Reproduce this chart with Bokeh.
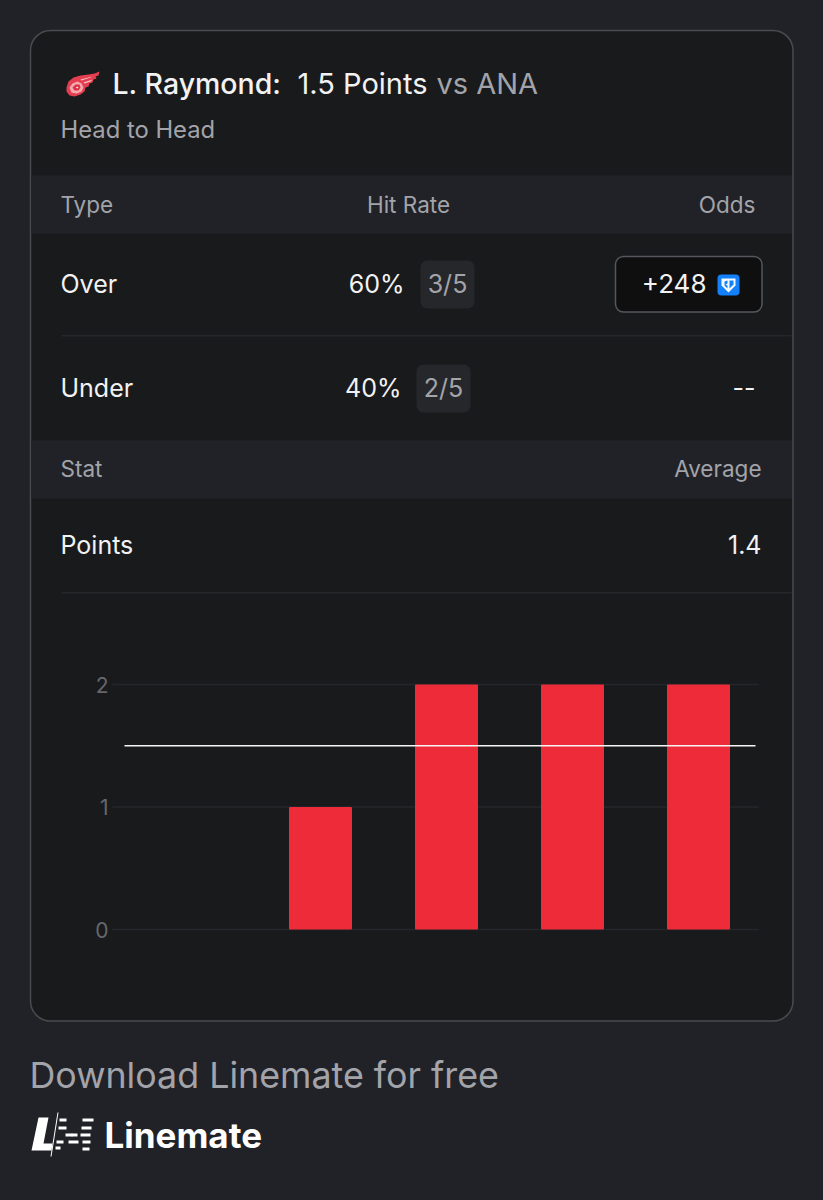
from bokeh.plotting import figure
from bokeh.embed import file_html
from bokeh.resources import INLINE
from bokeh.core.properties import value
from bokeh.models import Range1d, FixedTicker, LinearAxis

# ---- data
games = [0, 1, 2, 3, 4]
points = [0, 1, 2, 2, 2]
prop_line = 1.5
y_ticks = [0, 1, 2]
title_player = "L. Raymond:"
title_prop = "1.5 Points"
title_opp = "vs ANA"
subtitle = "Head to Head"
rows = [("Over", "60%", "3/5", "+248"), ("Under", "40%", "2/5", "--")]
stat_row = ("Points", "1.4")

BG, CARD, BAND = "#212227", "#191a1c", "#212227"
BORDER, SEP = "#4a4b50", "#26272b"
WHITE, GREY, DIM = "#f2f2f3", "#a3a4aa", "#66676c"
RED = "#ee2b38"
FONT = "Inter"
W, H = 823, 1200

# placement of the chart on the page
x0_px, x_step = 194.0, 126.0     # centre of first game, spacing
y0_px, y_step = 929.0, 122.5     # y = 0 line, one point


def dx(px):
    return (px - x0_px) / x_step


def dy(py):
    return (y0_px - py) / y_step


p = figure(width=W, height=H, output_backend="svg", toolbar_location=None,
           x_range=Range1d(dx(0), dx(W)), y_range=Range1d(dy(H), dy(0)),
           x_axis_location=None, y_axis_location=None,
           min_border=0, background_fill_color=BG, border_fill_color=BG, outline_line_color=None)
p.grid.visible = False
p.extra_x_ranges["px"] = Range1d(0, W)
p.extra_y_ranges["py"] = Range1d(H, 0)
PX = dict(x_range_name="px", y_range_name="py")


def box(x0, y0, x1, y1, fill, line=None, radius=0, lw=1.5):
    p.quad(left=[x0], right=[x1], top=[y0], bottom=[y1], fill_color=fill,
           line_color=line, line_width=lw, border_radius=radius, **PX)


def txt(x, y, s, size, color, align="left", bold=False, font=FONT):
    p.text(x=[x], y=[y - 1], text=[s], text_font=value(font), text_font_size=value(f"{size}px"),
           text_color=color, text_align=align, text_baseline="middle",
           text_font_style="bold" if bold else "normal", **PX)


def poly(pts, fill):
    p.patch(x=[a for a, _ in pts], y=[b for _, b in pts], fill_color=fill, line_color=None, **PX)


# card and bands
box(30, 30, 792.5, 1020.5, CARD, BORDER, 20)
box(31, 175, 791.5, 233, BAND)
box(31, 440, 791.5, 498, BAND)
box(61, 334.5, 791, 336, SEP)
box(61, 591.5, 791, 593, SEP)

# title
txt(112, 84, title_player, 28.5, WHITE, font="Inter Medium")
txt(297, 84, title_prop, 29, WHITE)
txt(436, 84, title_opp, 29, GREY)
txt(60, 130, subtitle, 23.8, GREY)

# table header
txt(60, 205, "Type", 22.5, GREY)
txt(408, 205, "Hit Rate", 22.5, GREY, "center")
txt(755, 205, "Odds", 22.5, GREY, "right")

# rows
ys = [284, 388]
pct_right = [404, 401]
chip = [(420, 474, 260, 308), (416, 470, 364, 412)]
for (name, pct, frac, odds), y, pr, c in zip(rows, ys, pct_right, chip):
    txt(60, y, name, 25, WHITE)
    txt(pr, y, pct, 25, WHITE, "right")
    box(c[0], c[2], c[1], c[3], "#26272b", None, 7)
    txt((c[0] + c[1]) / 2, y, frac, 25, GREY, "center")

box(615, 256, 761.5, 311.5, "#0f0f10", "#56575c", 8)
txt(706, 284, rows[0][3], 26, WHITE, "right")
txt(755, 388, rows[1][3], 25, WHITE, "right")

# FanDuel badge
box(717, 274, 739, 295, "#1381fb", None, 4)
poly([(721, 278), (735, 278), (735, 285), (728, 292), (721, 285)], "#f4f9ff")
poly([(724, 281), (727, 280), (727, 283), (725, 284), (727, 285), (727, 288), (724, 285)], "#1381fb")
poly([(729, 280), (733, 280), (733, 284), (729, 288)], "#1381fb")

# stat section
txt(60, 469, "Stat", 22.5, GREY)
txt(761, 469, "Average", 22.5, GREY, "right")
txt(60, 545, stat_row[0], 25, WHITE)
txt(761, 545, stat_row[1], 25, WHITE, "right")

# team logo: wheel and feathered wing
poly([(66, 87), (68, 81), (73, 77), (80, 75), (88, 74), (94, 73), (99, 71), (98, 75), (95, 76),
      (96, 78), (93, 79), (92, 82), (89, 83), (88, 86), (85, 87), (84, 91), (80, 94), (74, 96),
      (69, 95), (66, 91)], "#e33f50")
poly([(69, 87), (72, 83), (77, 81), (81, 83), (83, 87), (81, 91), (76, 93), (71, 92)], "#f7a9b0")
poly([(72, 87), (75, 84), (79, 84), (80, 87), (78, 90), (74, 90)], "#d93244")
poly([(75, 87), (77, 86), (78, 87), (77, 88)], "#fbd5d8")
for pts in ([(80, 79), (92, 76), (90, 77), (81, 80)], [(83, 82), (92, 79), (90, 81), (84, 83)]):
    poly(pts, "#f7c2c7")

# chart: grid, bars, prop line, axis on the library's scales
p.segment(x0=[dx(112)] * len(y_ticks), x1=[dx(758)] * len(y_ticks), y0=y_ticks, y1=y_ticks,
          line_color=SEP, line_width=1.5)
p.vbar(x=games, top=points, bottom=0, width=0.5, fill_color=RED, line_color=None, border_radius=1)
p.line(x=[dx(124), dx(755)], y=[prop_line, prop_line], line_color="#f5f5f5", line_width=1.6)

ax = LinearAxis(fixed_location=dx(112), bounds=(0, 2))
ax.ticker = FixedTicker(ticks=y_ticks)
ax.axis_line_color = None
ax.major_tick_line_color = None
ax.minor_tick_line_color = None
ax.major_label_text_color = DIM
ax.major_label_text_font = FONT
ax.major_label_text_font_size = "21px"
ax.major_label_standoff = -2
p.add_layout(ax, "left")

# footer
txt(29, 1075, "Download Linemate for free", 35.8, GREY)
txt(104, 1135, "Linemate", 35, "#ffffff", bold=True)
# brand mark
poly([(38, 1117), (48, 1117), (43, 1143), (52, 1143), (51, 1150), (31, 1150)], "#ffffff")
poly([(57, 1112), (58, 1112), (51, 1156), (50, 1156)], "#ffffff")
for x0, x1, y0 in [(59, 66, 1118), (58, 66, 1126), (65, 72, 1133), (56, 63, 1140), (55, 60, 1146),
                   (71, 77, 1133), (82, 93, 1118), (81, 91, 1126), (80, 90, 1133), (68, 78, 1140),
                   (82, 90, 1140), (82, 89, 1147)]:
    box(x0, y0, x1, y0 + 3, "#ffffff")

html = file_html(p, INLINE)
html = html.replace("<head>", f"<head><style>html,body{{background:{BG};margin:0;}}</style>", 1)
open("out.html", "w").write(html)
